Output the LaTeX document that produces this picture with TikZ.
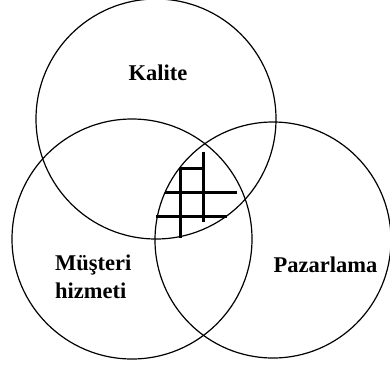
\documentclass[tikz,border=0pt]{standalone}
\usepackage{fontspec}
\setmainfont{Liberation Serif}
\begin{document}
\begin{tikzpicture}[x=1pt,y=-1pt,
  venn/.style={draw=black,line width=1.2pt},
  hatch/.style={draw=black,line width=3pt},
  lbl/.style={font=\fontsize{22.5}{28}\selectfont\bfseries,inner sep=0pt}]
\useasboundingbox (0,0) rectangle (390,367);
\draw[venn] (156,119) circle (120);
\draw[venn] (132,239) circle (120);
\draw[venn] (273,240) circle (118);
% hatching
\coordinate (v1t) at (203.5,151.5); \coordinate (v1b) at (203.5,222);
\coordinate (v2t) at (180,168); \coordinate (v2b) at (180,238);
\coordinate (h1l) at (180,168); \coordinate (h1r) at (203.5,168);
\coordinate (h2l) at (165,192); \coordinate (h2r) at (237,192);
\coordinate (h3l) at (156,216); \coordinate (h3r) at (227,216);
\draw[hatch] (v1t) -- (v1b);
\draw[hatch] (v2t) -- (v2b);
\draw[hatch] (h1l) -- (h1r);
\draw[hatch] (h2l) -- (h2r);
\draw[hatch] (h3l) -- (h3r);
\node[lbl] (kal) at (158,73) {Kalite};
\node[lbl,align=left,anchor=west] (mus) at (55,277) {Müşteri\\hizmeti};
\node[lbl] (paz) at (325.5,265) {Pazarlama};
\end{tikzpicture}
\end{document}
